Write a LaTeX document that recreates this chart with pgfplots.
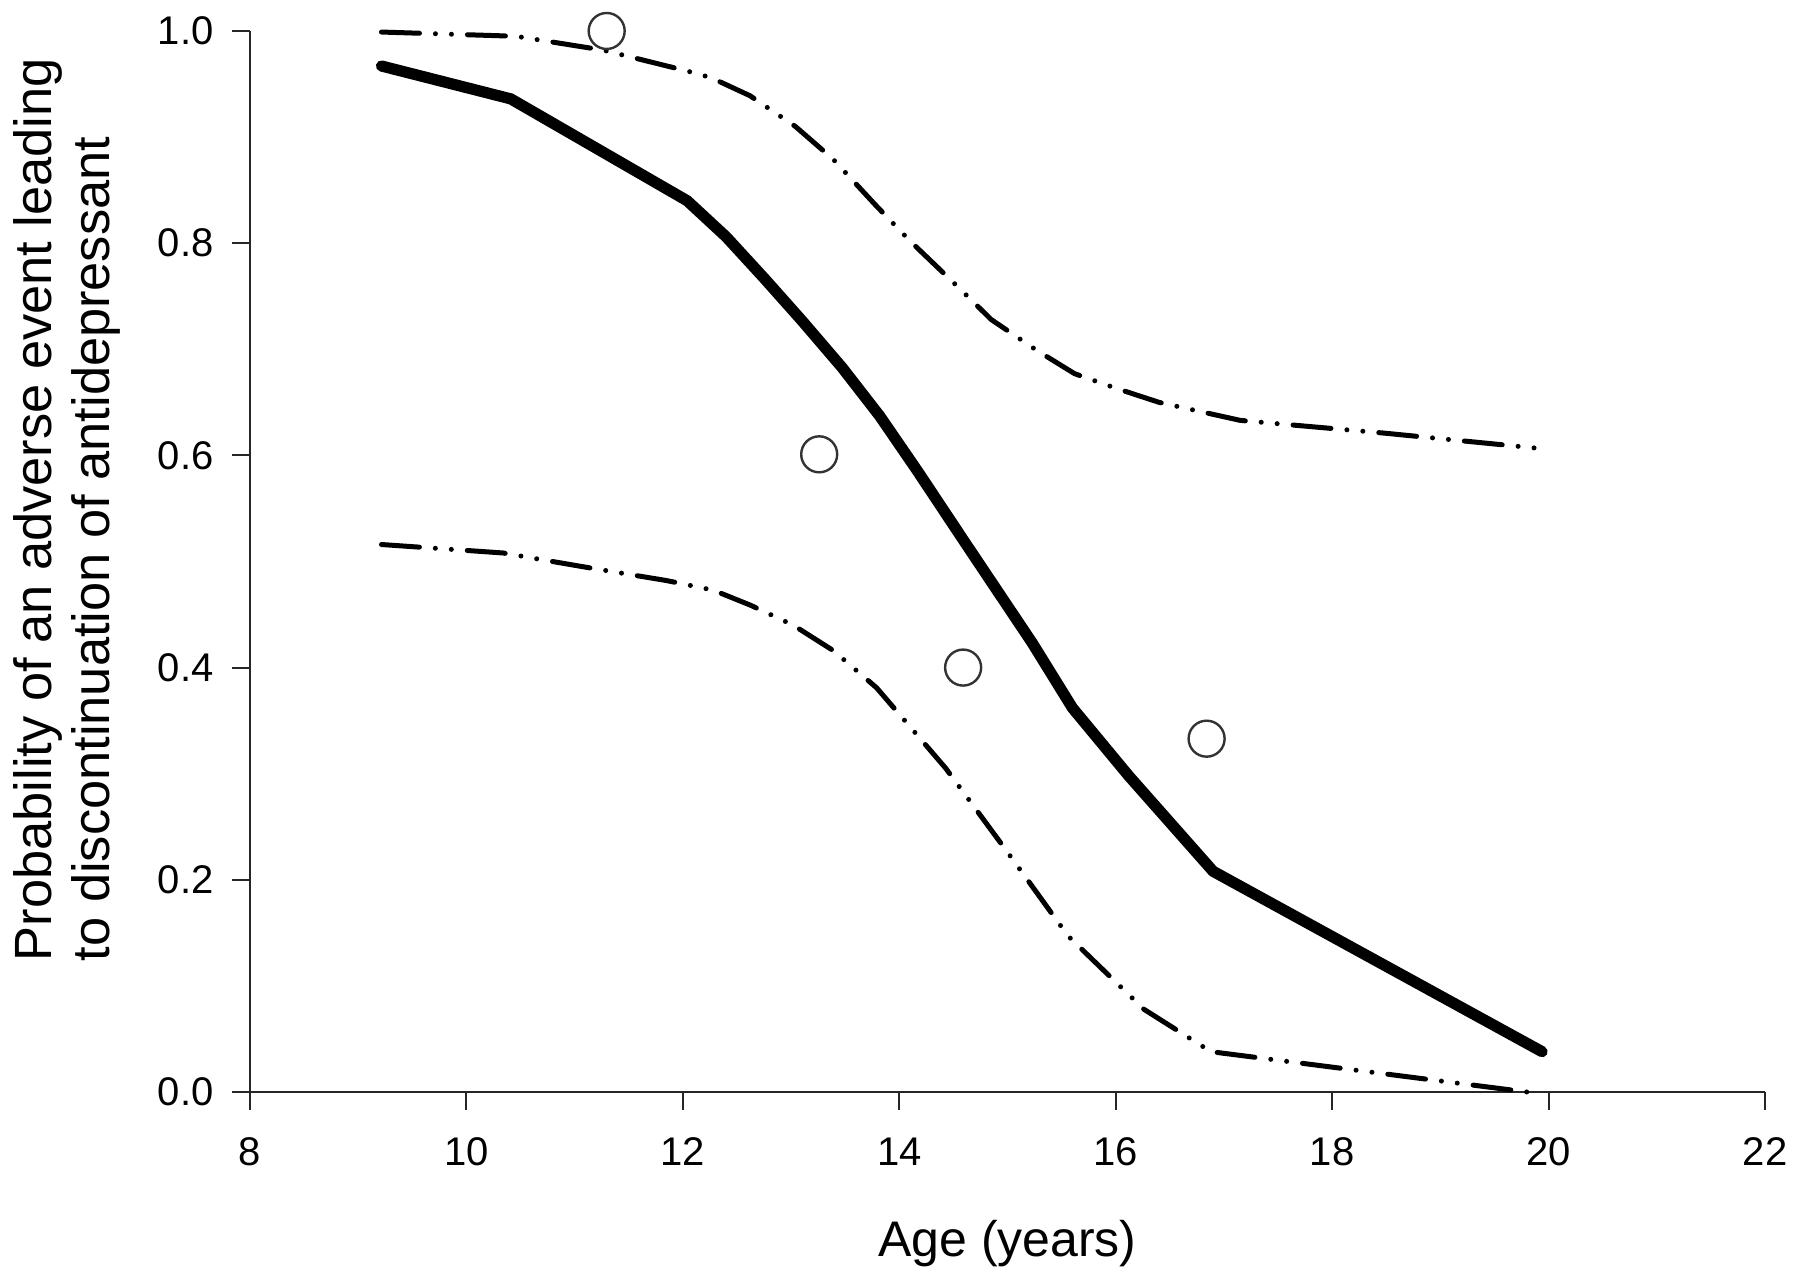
\documentclass[border=0pt]{standalone}
\usepackage{pgfplots}
\pgfplotsset{compat=1.18}
\usepackage{fontspec}
\setmainfont{Liberation Sans}
\begin{document}
\begin{tikzpicture}
\begin{axis}[
  at={(0pt,0pt)}, anchor=south west,
  scale only axis, width=378.75pt, height=265.25pt,
  xmin=8, xmax=22, ymin=0, ymax=1,
  axis x line=bottom, axis y line=left,
  axis line style={-, black!85, line width=0.5pt},
  every tick/.style={black!85, line width=0.5pt},
  tick align=outside, major tick length=4.4pt,
  xtick={8,10,...,22}, ytick={0,0.2,...,1.0},
  xticklabels={8,10,12,14,16,18,20,22},
  /pgf/number format/fixed, /pgf/number format/fixed zerofill, /pgf/number format/precision=1, /pgf/number format/assume math mode=true,
  ticklabel style={font=\fontsize{10}{12}\selectfont},
  xticklabel style={anchor=base, yshift=-14pt},
  yticklabel style={anchor=east, xshift=-1.2pt},
  xlabel={Age (years)},
  xlabel style={font=\fontsize{12.5}{14}\selectfont, at={(axis description cs:0.5,0)}, anchor=base, yshift=-41.25pt},
  ylabel={Probability of an adverse event leading\\to discontinuation of antidepressant},
  ylabel style={font=\fontsize{13.1}{14.6}\selectfont, align=left, at={(axis description cs:-0.121,0.549)}, anchor=center},
  clip=false,
]
\addplot[black, line width=1.25pt, line cap=round, dash pattern=on 9.5pt off 4pt on 0pt off 4pt on 0pt off 4pt] coordinates {
(9.215,0.999) (10.46,0.995) (11.26,0.982) (12.05,0.962) (12.26,0.956) (12.62,0.939) (13.04,0.910) (13.39,0.879) (13.78,0.836) (14.10,0.802) (14.53,0.760) (14.85,0.728) (15.27,0.699) (15.62,0.677) (16.01,0.663) (16.40,0.650) (17.15,0.633) (18.48,0.621) (19.97,0.606)
};
\addplot[black, line width=1.25pt, line cap=round, dash pattern=on 9.5pt off 4pt on 0pt off 4pt on 0pt off 4pt] coordinates {
(9.215,0.516) (10.34,0.508) (11.08,0.495) (11.85,0.482) (12.28,0.473) (12.62,0.459) (13.02,0.440) (13.39,0.416) (13.79,0.381) (14.43,0.305) (15.00,0.226) (15.56,0.147) (16.26,0.078) (16.88,0.038) (19.80,0.000)
};
\addplot[black, line width=2.8pt, line cap=round, line join=round] coordinates {
(9.215,0.967) (10.41,0.936) (12.04,0.840) (12.40,0.806) (12.76,0.766) (13.10,0.727) (13.47,0.683) (13.82,0.637) (14.17,0.585) (14.60,0.519) (15.23,0.423) (15.60,0.362) (16.12,0.298) (16.90,0.208) (19.94,0.038)
};
\addplot[only marks, mark=o, mark size=4.5pt, mark options={draw=black!80, fill=white, line width=0.6pt}] coordinates {
(11.296,1.0) (13.26,0.601) (14.59,0.400) (16.84,0.333)
};
\end{axis}
\pgfresetboundingbox
\path[use as bounding box] (-62.5pt,-47.75pt) rectangle (387.5pt,273pt);
\end{tikzpicture}
\end{document}
